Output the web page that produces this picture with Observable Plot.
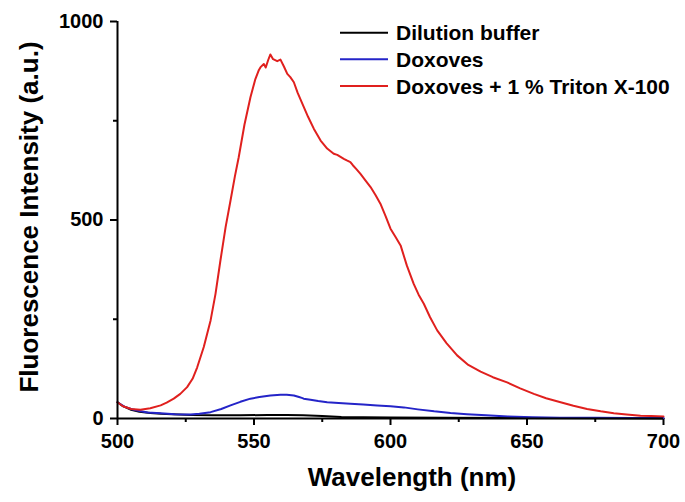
<!DOCTYPE html>
<html>
<head>
<meta charset="utf-8">
<script src="https://cdn.jsdelivr.net/npm/d3@7"></script>
<script src="https://cdn.jsdelivr.net/npm/@observablehq/plot@0.6"></script>
<style>
  html, body { margin: 0; padding: 0; background: #fff; }
</style>
</head>
<body>
<div id="chart"></div>
<script>
// ---- data ----
const seriesNames = ["Dilution buffer", "Doxoves", "Doxoves + 1 % Triton X-100"];
const seriesColors = ["#000000", "#2424c8", "#e0201e"];

const bufferWl = [500, 502, 505, 508, 512, 516, 520, 527, 535, 545, 555, 562, 568, 575, 582, 590, 600, 620, 650, 680, 700];
const bufferI  = [41, 31, 22, 17, 14, 12, 11, 9, 8, 8, 9, 9, 8, 6, 4, 3, 2.5, 2, 1, 0.5, 0];

const doxWl = [500, 502.5, 505, 507.2, 511, 515.8, 521, 526.7, 530, 534.1, 538, 541.4, 545, 548.7, 552, 556, 559.7, 562, 564.6, 566.5, 567.5, 568.2, 570.7, 573.5, 576.8, 581, 585.3, 590, 595.1, 600, 604.9, 610, 616, 622, 628, 635, 643, 652, 662, 675, 688, 700];
const doxI  = [41, 30, 24, 20, 15, 13, 11, 10, 12, 16, 24, 33, 42, 50, 54, 58, 60, 60, 58, 54, 52, 50, 47, 44, 41, 39, 37, 35, 33, 31, 28, 23, 18, 14, 11, 8, 5, 3, 2, 2, 1, 1];

const tritonWl = [500, 502, 505, 508.4, 512, 515.8, 518, 520.6, 523, 525.5, 527.5, 529.2, 531.6, 534.1, 535.9, 537.7, 539.6, 541.4, 543, 544.4, 546.5, 548.7, 550.5, 551.8, 552.4, 553.6, 554.3, 555.2, 556, 557, 558.5, 559.7, 561, 562.2, 563.3, 564.6, 566, 567.7, 569.8, 571.9, 574.4, 576.8, 579.2, 580.5, 582.9, 584, 585.3, 586.2, 587.5, 589, 590.8, 592.7, 594.5, 596.3, 598.2, 600, 601.8, 603.7, 606, 608.5, 610.3, 612.2, 614.5, 617.1, 620.5, 624.4, 628.5, 633, 637.5, 642.7, 647.5, 652.5, 657, 662.3, 667, 672, 677, 681.8, 686.5, 691.6, 695.5, 700];
const tritonI  = [41, 31, 24, 22, 26, 33, 40, 50, 62, 79, 100, 129, 180, 247, 314, 398, 482, 549, 610, 658, 740, 809, 855, 878, 885, 893, 884, 903, 917, 905, 900, 904, 886, 868, 860, 847, 820, 793, 760, 730, 700, 680, 667, 664, 654, 650, 646, 638, 628, 616, 600, 583, 563, 541, 510, 478, 458, 436, 385, 339, 312, 289, 255, 222, 190, 159, 135, 118, 104, 91, 76, 62, 51, 41, 32, 24, 18, 13, 10, 7, 6, 5];

const xMajor = [500, 550, 600, 650, 700];
const xMinor = [525, 575, 625, 675];
const yMajor = [0, 500, 1000];
const yMinor = [250, 750];

const xLabel = "Wavelength (nm)";
const yLabel = "Fluorescence Intensity (a.u.)";

// ---- build tables ----
const toRows = (wl, I, s) => wl.map((w, i) => ({wl: w, I: I[i], s}));
const rows = [
  ...toRows(bufferWl, bufferI, seriesNames[0]),
  ...toRows(doxWl, doxI, seriesNames[1]),
  ...toRows(tritonWl, tritonI, seriesNames[2])
];

const font = "'Liberation Sans', Arial, Helvetica, sans-serif";

const svgEl = Plot.plot({
  width: 685,
  height: 502,
  marginLeft: 117,
  marginRight: 22,
  marginTop: 21,
  marginBottom: 84,
  style: {fontFamily: font, fontWeight: "bold", fontSize: "20px", color: "#000", background: "#fff"},
  x: {domain: [500, 700]},
  y: {domain: [0, 1000]},
  color: {domain: seriesNames, range: seriesColors},
  marks: [
    Plot.axisX({ticks: xMajor, tickSize: 7, tickPadding: 8, strokeWidth: 2, tickFormat: d => String(d), label: null, fontSize: 20}),
    Plot.axisX({ticks: xMinor, tickSize: 4, strokeWidth: 2, tickFormat: () => "", label: null}),
    Plot.axisY({ticks: yMajor, tickSize: 7, tickPadding: 7, strokeWidth: 2, tickFormat: d => String(d), label: null, fontSize: 20}),
    Plot.axisY({ticks: yMinor, tickSize: 4, strokeWidth: 2, tickFormat: () => "", label: null}),
    Plot.line(rows, {x: "wl", y: "I", z: "s", stroke: "s", strokeWidth: 2, curve: "linear"}),
    Plot.ruleY([0], {strokeWidth: 2}),
    Plot.ruleX([500], {strokeWidth: 2})
  ]
});

const svg = d3.select(svgEl);

// axis titles
svg.append("text")
  .attr("x", 412).attr("y", 486)
  .attr("text-anchor", "middle")
  .attr("font-family", font).attr("font-weight", "bold").attr("font-size", 26)
  .attr("fill", "#000")
  .text(xLabel);

svg.append("text")
  .attr("transform", "translate(38,217) rotate(-90)")
  .attr("text-anchor", "middle")
  .attr("font-family", font).attr("font-weight", "bold").attr("font-size", 26)
  .attr("fill", "#000")
  .text(yLabel);

// legend
const legendY = [32.7, 59.3, 86];
seriesNames.forEach((name, i) => {
  const g = svg.append("g");
  g.append("line")
    .attr("x1", 340).attr("x2", 388)
    .attr("y1", legendY[i]).attr("y2", legendY[i])
    .attr("stroke", seriesColors[i]).attr("stroke-width", 2);
  g.append("text")
    .attr("x", 396).attr("y", legendY[i] + 7.5)
    .attr("text-anchor", "start")
    .attr("font-family", font).attr("font-weight", "bold").attr("font-size", 21)
    .attr("fill", "#000")
    .text(name);
});

document.getElementById("chart").appendChild(svgEl);
</script>
</body>
</html>
